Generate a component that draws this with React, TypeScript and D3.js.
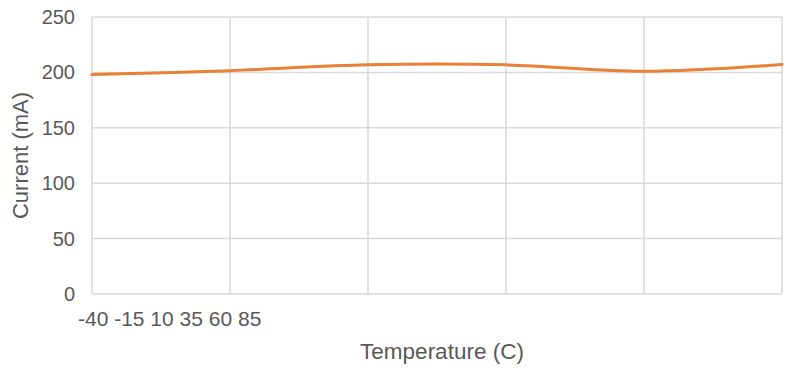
import React, { useEffect, useRef } from "react";
import * as d3 from "d3";

// temperature (C) and supply current (mA)
const temps = [-40, -15, 10, 35, 60, 85];
const current = [198, 201.6, 206.8, 206.8, 201.0, 207.1];
const xTickLabels = ["-40", "-15", "10", "35", "60", "85"];
const yTicks = [0, 50, 100, 150, 200, 250];

const App: React.FC = () => {
  const svgRef = useRef<SVGSVGElement>(null);

  useEffect(() => {
    if (!svgRef.current) return;

    const width = 790;
    const height = 371;
    const margin = { top: 17, right: 8, bottom: 77, left: 92 };
    const innerWidth = width - margin.left - margin.right;
    const innerHeight = height - margin.top - margin.bottom;

    const svg = d3.select(svgRef.current);
    svg.selectAll("*").remove();
    svg.attr("width", width).attr("height", height);

    const g = svg
      .append("g")
      .attr("transform", `translate(${margin.left},${margin.top})`);

    const x = d3.scaleLinear().domain([-40, 85]).range([0, innerWidth]);
    const y = d3.scaleLinear().domain([0, 250]).range([innerHeight, 0]);

    const gridColor = "#d9d9d9";

    // horizontal grid
    g.selectAll(".hgrid")
      .data(yTicks)
      .enter()
      .append("line")
      .attr("x1", 0)
      .attr("x2", innerWidth)
      .attr("y1", (d) => y(d))
      .attr("y2", (d) => y(d))
      .attr("stroke", gridColor)
      .attr("stroke-width", 1.5);

    // vertical grid
    g.selectAll(".vgrid")
      .data(temps)
      .enter()
      .append("line")
      .attr("x1", (d) => x(d))
      .attr("x2", (d) => x(d))
      .attr("y1", 0)
      .attr("y2", innerHeight)
      .attr("stroke", gridColor)
      .attr("stroke-width", 1.5);

    // y tick labels
    g.selectAll(".ytick")
      .data(yTicks)
      .enter()
      .append("text")
      .attr("x", -17)
      .attr("y", (d) => y(d))
      .attr("dy", "0.35em")
      .attr("text-anchor", "end")
      .attr("fill", "#595959")
      .style("font-family", "'Liberation Sans', Arial, sans-serif")
      .style("font-size", "20px")
      .text((d) => d);

    // x tick labels, crammed together at the left as in the source
    svg
      .append("text")
      .attr("x", 78)
      .attr("y", 326)
      .attr("fill", "#595959")
      .style("font-family", "'Liberation Sans', Arial, sans-serif")
      .style("font-size", "21px")
      .text(xTickLabels.join(" "));

    const line = d3
      .line<number>()
      .x((_, i) => x(temps[i]))
      .y((d) => y(d))
      .curve(d3.curveCatmullRom.alpha(0.5));

    g.append("path")
      .datum(current)
      .attr("d", line)
      .attr("fill", "none")
      .attr("stroke", "#EA7F37")
      .attr("stroke-width", 3)
      .attr("stroke-linecap", "round");

    svg
      .append("text")
      .attr("x", margin.left + innerWidth / 2 + 5)
      .attr("y", 359)
      .attr("text-anchor", "middle")
      .attr("fill", "#595959")
      .style("font-family", "'Liberation Sans', Arial, sans-serif")
      .style("font-size", "22.5px")
      .text("Temperature (C)");

    svg
      .append("text")
      .attr("transform", "rotate(-90)")
      .attr("x", -(margin.top + innerHeight / 2))
      .attr("y", 28)
      .attr("text-anchor", "middle")
      .attr("fill", "#595959")
      .style("font-family", "'Liberation Sans', Arial, sans-serif")
      .style("font-size", "22px")
      .text("Current (mA)");
  }, []);

  return (
    <svg
      ref={svgRef}
      style={{ position: "absolute", left: 0, top: 0, background: "#fff" }}
    ></svg>
  );
};

export default App;
